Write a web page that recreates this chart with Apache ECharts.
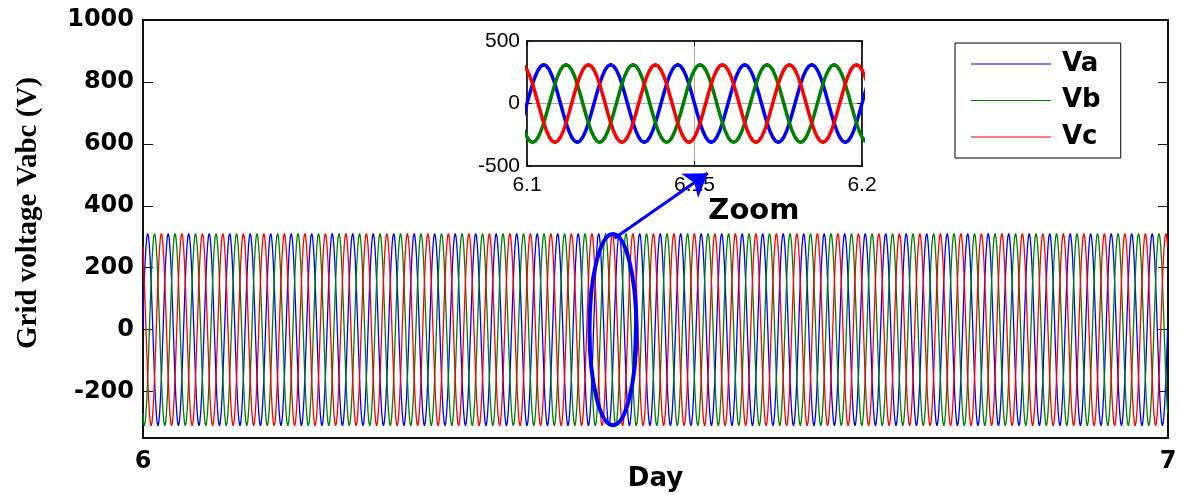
<!DOCTYPE html>
<html>
<head>
<meta charset="utf-8">
<script src="https://cdn.jsdelivr.net/npm/echarts@6/dist/echarts.min.js"></script>
<style>
  html, body { margin: 0; padding: 0; background: #fff; }
  #chart { width: 1181px; height: 495px; }
</style>
</head>
<body>
<div id="chart"></div>
<script>
// Three-phase grid voltage over one simulated day (Va, Vb, Vc)
const dayStart = 6;
const dayEnd = 7;
const cyclesPerDay = 50;

// One period of each phase voltage (V), 24 samples per period
const vaCycle = [0, 80, 156, 220, 269, 300, 311, 300, 269, 220, 156, 80,
                 0, -80, -156, -220, -269, -300, -311, -300, -269, -220, -156, -80];
const vbCycle = [-269, -300, -311, -300, -269, -220, -156, -80, 0, 80, 156, 220,
                 269, 300, 311, 300, 269, 220, 156, 80, 0, -80, -156, -220];
const vcCycle = [269, 220, 156, 80, 0, -80, -156, -220, -269, -300, -311, -300,
                 -269, -220, -156, -80, 0, 80, 156, 220, 269, 300, 311, 300];

const seriesNames = ['Va', 'Vb', 'Vc'];
const seriesColors = ['#0000ff', '#008000', '#ff0000'];

const yTicks = [-200, 0, 200, 400, 600, 800, 1000];
const insetRange = [6.1, 6.2];
const insetYTicks = [-500, 0, 500];

// zoom marker: ellipse around the window, arrow to the inset
const zoomCenter = [6.4585, 0];
const zoomHalf = [0.0229, 309];
const arrowFrom = [6.46, 295];
const arrowTo = [6.551, 505];
const zoomTextAt = [6.596, 383];

function buildSeries(cycle) {
  const n = cycle.length;
  const total = cyclesPerDay * n;
  const out = [];
  for (let i = 0; i <= total; i++) {
    out.push([dayStart + (dayEnd - dayStart) * i / total, cycle[i % n]]);
  }
  return out;
}
const phaseData = [buildSeries(vaCycle), buildSeries(vbCycle), buildSeries(vcCycle)];
const insetData = phaseData.map(d =>
  d.filter(p => p[0] >= insetRange[0] - 0.002 && p[0] <= insetRange[1] + 0.002));

const bold = { fontFamily: 'DejaVu Sans', fontWeight: 'bold', color: '#000' };
const frame = '#111';

const chart = echarts.init(document.getElementById('chart'), null, { renderer: 'canvas' });

const mainSeries = seriesNames.map((name, i) => ({
  name, type: 'line', xAxisIndex: 0, yAxisIndex: 0,
  data: phaseData[i], showSymbol: false, symbol: 'none', step: 'middle',
  lineStyle: { color: seriesColors[i], width: 1.3 },
  itemStyle: { color: seriesColors[i] },
  silent: true, animation: false, z: 2
}));
mainSeries[0].markLine = {
  silent: true, animation: false,
  symbol: ['none', 'arrow'], symbolSize: 22,
  lineStyle: { color: '#0000ff', width: 3, type: 'solid' },
  label: { show: false },
  emphasis: { disabled: true },
  data: [[{ coord: arrowFrom }, { coord: arrowTo }]]
};

const insetSeries = seriesNames.map((name, i) => ({
  name, type: 'line', xAxisIndex: 1, yAxisIndex: 2,
  data: insetData[i], showSymbol: false, symbol: 'none',
  lineStyle: { color: seriesColors[i], width: 3.5 },
  itemStyle: { color: seriesColors[i] },
  silent: true, animation: false, z: 3
}));

chart.setOption({
  animation: false,
  backgroundColor: '#fff',
  grid: [
    { left: 143, right: 13, top: 20, bottom: 57, show: true, borderColor: frame, borderWidth: 2,
      containLabel: false, outerBoundsMode: 'none' },
    { left: 527, top: 41, width: 335, height: 125, show: true, borderColor: frame, borderWidth: 1.5,
      backgroundColor: '#fff', z: 3, containLabel: false, outerBoundsMode: 'none' }
  ],
  legend: {
    data: seriesNames.map((n, i) => ({ name: n, icon: 'rect', itemStyle: { color: seriesColors[i] } })),
    orient: 'vertical', left: 955, top: 43,
    itemWidth: 80, itemHeight: 1, itemGap: 10.5,
    padding: [8, 20, 8, 16],
    borderColor: '#000', borderWidth: 1, backgroundColor: '#fff',
    textStyle: { ...bold, fontSize: 26, lineHeight: 26, padding: [0, 0, 0, 6] },
    selectedMode: false
  },
  xAxis: [
    {
      gridIndex: 0, type: 'value', min: dayStart, max: dayEnd, interval: 1,
      axisLine: { onZero: false, lineStyle: { color: frame, width: 2 } },
      axisTick: { inside: true, length: 8, lineStyle: { color: frame } },
      axisLabel: { ...bold, fontSize: 24, margin: 12 },
      splitLine: { show: false },
      name: 'Day', nameLocation: 'middle', nameGap: 28, nameMoveOverlap: false,
      nameTextStyle: { ...bold, fontSize: 26 }
    },
    {
      gridIndex: 1, type: 'value', min: insetRange[0], max: insetRange[1], interval: 0.05,
      axisLine: { onZero: false, lineStyle: { color: frame, width: 1.5 } },
      axisTick: { inside: true, length: 5, lineStyle: { color: frame } },
      axisLabel: { fontFamily: 'Liberation Sans', fontSize: 21, color: '#000', margin: 9,
                   formatter: v => String(parseFloat(v.toFixed(2))) },
      splitLine: { show: true, lineStyle: { color: '#aaa', width: 1 } },
      z: 3
    },
    {
      gridIndex: 1, type: 'value', position: 'top', min: insetRange[0], max: insetRange[1], interval: 0.05,
      axisLine: { onZero: false, lineStyle: { color: frame, width: 1.5 } },
      axisTick: { inside: true, length: 5, lineStyle: { color: frame } },
      axisLabel: { show: false }, splitLine: { show: false }, z: 3
    }
  ],
  yAxis: [
    {
      gridIndex: 0, type: 'value', min: -350, max: 1000,
      axisLine: { show: true, onZero: false, lineStyle: { color: frame, width: 2 } },
      axisTick: { show: true, inside: true, length: 10, customValues: yTicks, lineStyle: { color: frame } },
      axisLabel: { ...bold, fontSize: 24, margin: 9, customValues: yTicks, formatter: v => String(v) },
      splitLine: { show: false }
    },
    {
      gridIndex: 0, type: 'value', position: 'right', min: -350, max: 1000,
      axisLine: { show: true, onZero: false, lineStyle: { color: frame, width: 2 } },
      axisTick: { show: true, inside: true, length: 10, customValues: yTicks, lineStyle: { color: frame } },
      axisLabel: { show: false, customValues: yTicks },
      splitLine: { show: false }
    },
    {
      gridIndex: 1, type: 'value', min: insetYTicks[0], max: insetYTicks[2], interval: 500,
      axisLine: { show: true, onZero: false, lineStyle: { color: frame, width: 1.5 } },
      axisTick: { show: true, inside: true, length: 5, lineStyle: { color: frame } },
      axisLabel: { fontFamily: 'Liberation Sans', fontSize: 21, color: '#000', margin: 7 },
      splitLine: { show: true, lineStyle: { color: '#aaa', width: 1 } },
      z: 3
    },
    {
      gridIndex: 1, type: 'value', position: 'right', min: insetYTicks[0], max: insetYTicks[2], interval: 500,
      axisLine: { show: true, onZero: false, lineStyle: { color: frame, width: 1.5 } },
      axisTick: { show: true, inside: true, length: 5, lineStyle: { color: frame } },
      axisLabel: { show: false }, splitLine: { show: false }, z: 3
    }
  ],
  series: mainSeries.concat(insetSeries)
});

// annotations placed through the main axes' scale
const c = chart.convertToPixel({ gridIndex: 0 }, zoomCenter);
const e = chart.convertToPixel({ gridIndex: 0 }, [zoomCenter[0] + zoomHalf[0], zoomCenter[1] + zoomHalf[1]]);
const t = chart.convertToPixel({ gridIndex: 0 }, zoomTextAt);
chart.setOption({
  graphic: [
    {
      type: 'ellipse', silent: true, z: 10,
      shape: { cx: c[0], cy: c[1], rx: Math.abs(e[0] - c[0]), ry: Math.abs(c[1] - e[1]) },
      style: { fill: 'none', stroke: '#0000ff', lineWidth: 4 }
    },
    {
      type: 'text', silent: true, z: 10, x: t[0], y: t[1],
      style: { text: 'Zoom', font: 'bold 29px "DejaVu Sans"', fill: '#000', align: 'center', verticalAlign: 'middle' }
    },
    {
      type: 'text', silent: true, z: 10, x: 29, y: 213, rotation: Math.PI / 2,
      style: { text: 'Grid voltage Vabc (V)', font: 'bold 29px "Liberation Serif"', fill: '#000', align: 'center', verticalAlign: 'middle' }
    }
  ]
});
</script>
</body>
</html>
